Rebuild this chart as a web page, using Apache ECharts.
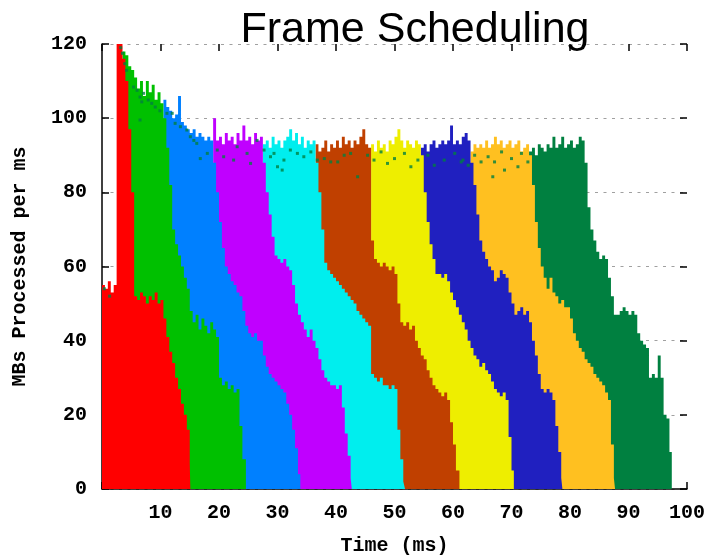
<!DOCTYPE html>
<html>
<head>
<meta charset="utf-8">
<script src="https://cdn.jsdelivr.net/npm/echarts@6/dist/echarts.min.js"></script>
<style>
  html, body { margin: 0; padding: 0; background: #ffffff; }
  #chart { width: 705px; height: 555px; }
</style>
</head>
<body>
<div id="chart"></div>
<script>
// Cumulative throughput (MBs per ms) of frames 1..n, sampled every 0.5 ms.
// Each frame is stacked on top of the older ones; a frame's curve is the
// upper edge of its band, so older frames are painted over newer ones.
const STEP = 0.5;
const frameNames = ['Frame 1', 'Frame 2', 'Frame 3', 'Frame 4', 'Frame 5',
                    'Frame 6', 'Frame 7', 'Frame 8', 'Frame 9', 'Frame 10'];
const frameColors = ['#ff0000', '#00c000', '#0080ff', '#c000ff', '#00eeee',
                     '#c04000', '#eeee00', '#2020c0', '#ffc020', '#008040'];
const frameStart = [0, 3.5, 10.5, 19.0, 27.5, 36.5, 46.0, 54.5, 63.0, 73.0];
const frameEnd   = [15.1, 24.6, 33.9, 42.7, 51.8, 61.1, 70.4, 78.7, 87.7, 97.4];

const frame1 = [55, 54, 56, 53, 55, 120, 120, 116, 110, 97, 80, 52, 51, 53, 52, 50,
  52, 51, 53, 50, 51, 46, 41, 37, 34, 30, 27, 23, 20, 16, 7];
const frame2 = [118, 117, 114, 113, 111, 108, 110, 106, 110, 107, 109, 105, 107, 104,
  100, 92, 82, 70, 66, 63, 60, 57, 54, 48, 45, 47, 43, 46, 44, 42, 45, 43, 41,
  30, 28, 29, 27, 28, 26, 27, 17, 8];
const frame3 = [105, 103, 102, 100, 101, 106, 99, 98, 97, 96, 97, 95, 96, 95, 94, 95, 94,
  88, 80, 72, 65, 60, 58, 56, 55, 53, 52, 48, 44, 42, 41, 42, 40, 40, 36, 33, 31,
  30, 29, 28, 27, 26, 23, 20, 16, 11, 4];
const frame4 = [100, 94, 95, 93, 96, 94, 95, 93, 96, 94, 98, 94, 95, 93, 96, 94, 95,
  88, 80, 74, 68, 63, 62, 61, 62, 60, 59, 55, 50, 47, 45, 43, 41, 43, 40, 38, 35,
  32, 30, 29, 28, 28, 27, 28, 22, 15, 9, 3];
const frame5 = [93, 94, 92, 95, 93, 94, 92, 94, 95, 97, 94, 96, 93, 95, 92, 94, 93, 94,
  88, 80, 70, 61, 59, 58, 57, 56, 55, 54, 53, 52, 51, 50, 48, 47, 46, 45, 44,
  31, 30, 29, 30, 28, 28, 27, 28, 27, 16, 8, 2];
const frame6 = [93, 91, 92, 94, 91, 93, 92, 94, 92, 95, 93, 94, 92, 94, 93, 95, 97, 93, 92,
  67, 62, 61, 60, 61, 60, 59, 60, 58, 50, 45, 44, 45, 43, 44, 40, 38, 36, 35, 32,
  30, 28, 27, 26, 25, 26, 24, 18, 12, 5];
const frame7 = [93, 91, 94, 92, 93, 91, 94, 93, 95, 97, 94, 92, 94, 93, 92, 94, 93,
  90, 80, 72, 66, 62, 58, 58, 57, 58, 56, 53, 51, 49, 47, 45, 43, 40, 38, 36, 35,
  33, 34, 32, 31, 29, 27, 26, 25, 26, 24, 14, 5];
const frame8 = [92, 93, 91, 93, 94, 92, 93, 94, 93, 94, 98, 93, 94, 93, 95, 96, 94,
  88, 82, 74, 67, 64, 62, 60, 59, 56, 57, 59, 58, 57, 53, 50, 47, 48, 49, 47, 48,
  45, 40, 36, 31, 27, 26, 27, 26, 24, 17, 10, 3];
const frame9 = [91, 93, 92, 93, 92, 94, 92, 93, 95, 93, 94, 92, 93, 94, 92, 93, 94, 91, 92, 93,
  90, 82, 72, 65, 60, 57, 54, 57, 53, 52, 50, 51, 49, 49, 46, 42, 40, 38, 37, 35,
  34, 33, 31, 30, 29, 28, 26, 24, 12, 3];
const frame10 = [91, 92, 90, 93, 92, 91, 93, 92, 95, 92, 93, 95, 92, 93, 94, 92, 93, 95, 94,
  88, 76, 70, 67, 64, 62, 63, 62, 57, 52, 47, 47, 48, 49, 48, 47, 48, 47, 42, 40,
  39, 38, 30, 31, 30, 36, 30, 20, 19, 10];

// Individual per-ms samples plotted as dots [time ms, MBs/ms]
const sampleDots = [
  [0.4, 54], [1.3, 52], [3.2, 119], [3.5, 117.5], [3.9, 114.7], [4.2, 112.9],
  [5.4, 108.4], [6.0, 107.5], [6.5, 105.7], [6.8, 104.4], [7.1, 106.7], [7.9, 104.9],
  [8.5, 104], [9.1, 103], [6.5, 99.5], [9.9, 102], [11.1, 101.3], [12.0, 101.3],
  [12.5, 98.6], [13.4, 97.7], [14.5, 96.8], [15.1, 95], [15.7, 94], [16.2, 93.2],
  [16.8, 89.1], [18.0, 90.5], [19.7, 91.4], [20.8, 89.6], [22.5, 88.7], [23.1, 92.3],
  [24.8, 90.5], [25.4, 87.8], [26.5, 94], [27.7, 91.4], [28.8, 89.6], [30.0, 86.9],
  [31.1, 88.7], [29.4, 90.5], [30.8, 86], [32.2, 91.4], [33.4, 90.5], [34.5, 89.6],
  [35.7, 90.9], [36.8, 88.7], [38.0, 89.1], [39.1, 88.2], [40.3, 88.2], [41.4, 90],
  [42.5, 90.5], [43.7, 84.2], [45.4, 90], [46.5, 88.7], [47.7, 90.9], [48.8, 87.8],
  [50.0, 89.1], [51.7, 90.5], [52.8, 86.9], [54.0, 88.7], [55.7, 90], [56.8, 87.3],
  [58.5, 88.7], [60.3, 90.5], [61.4, 88.2], [61.7, 88.7], [62.6, 87.3], [63.7, 90],
  [64.8, 88.2], [66.0, 89.6], [66.8, 84.2], [67.1, 88.2], [68.3, 90.9], [68.8, 86],
  [70.0, 89.1], [71.1, 86.9], [71.7, 90.5], [72.8, 88.2]
];

const frames = [frame1, frame2, frame3, frame4, frame5,
                frame6, frame7, frame8, frame9, frame10];

function stepPoints(i) {
  const pts = frames[i].map((v, k) => [frameStart[i] + k * STEP, v]);
  pts.push([frameEnd[i], 0]);
  return pts;
}

const monoFont = 'Liberation Mono';
const labelStyle = { fontFamily: monoFont, fontWeight: 'bold', fontSize: 20, color: '#000' };
const tickStyle = { show: true, inside: true, length: 7, lineStyle: { color: '#000', width: 1.5 } };

const chart = echarts.init(document.getElementById('chart'), null, { renderer: 'canvas' });

const series = frames.map((f, i) => ({
  type: 'line',
  name: frameNames[i],
  data: stepPoints(i),
  step: 'end',
  symbol: 'none',
  showSymbol: false,
  lineStyle: { width: 0, opacity: 0 },
  areaStyle: { color: frameColors[i], opacity: 1 },
  z: 20 - i,
  silent: true
}));

series.push({
  type: 'scatter',
  name: 'Samples',
  data: sampleDots,
  symbol: 'rect',
  symbolSize: [3, 3],
  itemStyle: { color: '#008040' },
  z: 30,
  silent: true
});

chart.setOption({
  animation: false,
  backgroundColor: '#ffffff',
  title: {
    text: 'Frame Scheduling',
    left: 410,
    top: 4,
    textAlign: 'center',
    textStyle: { fontFamily: 'Liberation Sans', fontWeight: 'normal', fontSize: 43, color: '#000' }
  },
  grid: { left: 102, right: 18, top: 44, bottom: 66, containLabel: false, outerBoundsMode: 'none' },
  xAxis: [
    {
      type: 'value', position: 'bottom', min: 0, max: 100, interval: 10,
      axisLine: { show: true, onZero: false, lineStyle: { color: '#000', width: 1.5 } },
      axisTick: tickStyle,
      axisLabel: Object.assign({ margin: 14, formatter: v => (v === 0 ? '' : String(v)) }, labelStyle),
      splitLine: { show: false },
      name: 'Time (ms)', nameLocation: 'middle', nameGap: 47,
      nameTextStyle: labelStyle
    },
    {
      type: 'value', position: 'top', min: 0, max: 100, interval: 10,
      axisLine: { show: false, onZero: false },
      axisTick: tickStyle,
      axisLabel: { show: false },
      splitLine: { show: false }
    }
  ],
  yAxis: [
    {
      type: 'value', position: 'left', min: 0, max: 120, interval: 20,
      axisLine: { show: true, onZero: false, lineStyle: { color: '#000', width: 1.5 } },
      axisTick: tickStyle,
      axisLabel: Object.assign({ margin: 15 }, labelStyle),
      splitLine: { show: true, lineStyle: { color: '#a0a0a0', width: 1.2, type: [3, 5.5] } },
      name: 'MBs Processed per ms', nameLocation: 'middle', nameGap: 72,
      nameTextStyle: labelStyle
    },
    {
      type: 'value', position: 'right', min: 0, max: 120, interval: 20,
      axisLine: { show: false, onZero: false },
      axisTick: tickStyle,
      axisLabel: { show: false },
      splitLine: { show: false }
    }
  ],
  series: series
});
</script>
</body>
</html>
